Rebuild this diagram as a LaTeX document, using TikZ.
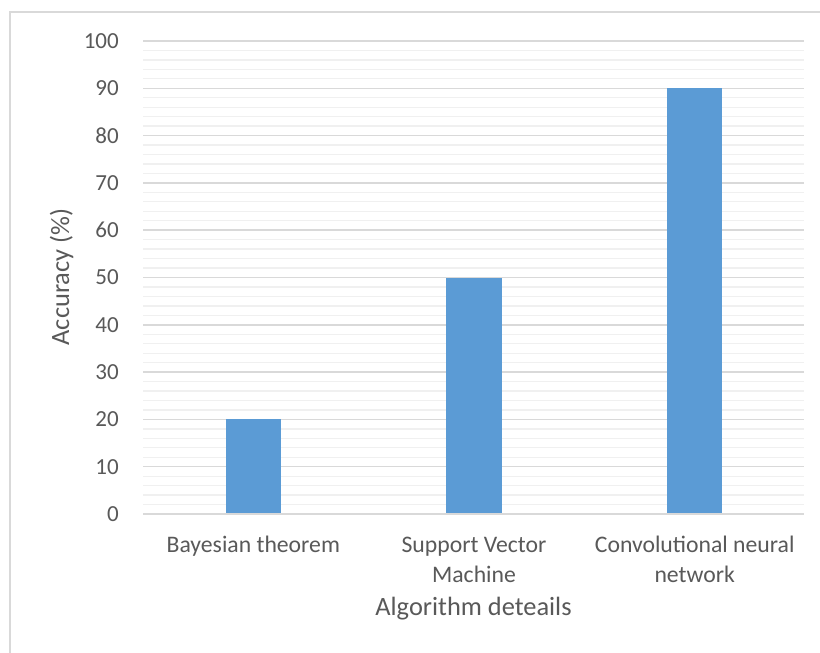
\documentclass[tikz,border=0pt]{standalone}
\usepackage{fontspec}
\setmainfont{Carlito}
\definecolor{txt}{HTML}{595959}
\definecolor{barc}{HTML}{5B9BD5}
\definecolor{majg}{HTML}{D9D9D9}
\definecolor{ming}{HTML}{F0F0F0}
\begin{document}
\begin{tikzpicture}[x=1pt,y=-1pt,
  frame/.style={draw=majg,line width=1.5pt},
  majorgrid/.style={draw=majg,line width=1.5pt},
  minorgrid/.style={draw=ming,line width=1.3pt},
  bar/.style={fill=barc,draw=none},
  ticklab/.style={text=txt,inner sep=0pt,font=\fontsize{23}{27}\selectfont},
  catlab/.style={text=txt,inner sep=0pt,anchor=base,font=\fontsize{23.7}{28}\selectfont},
  axtitle/.style={text=txt,inner sep=0pt,anchor=base,font=\fontsize{26.4}{30}\selectfont}]
\useasboundingbox (0,0) rectangle (820,653);
\fill[white] (0,0) rectangle (820,653);
\draw[frame] (820,12) -- (10,12) -- (10,653);
% minor grid
\foreach \v in {0,2,...,100} {
  \draw[minorgrid] (143,{514-4.73*\v}) -- (804,{514-4.73*\v});
}
% major grid and tick labels
\foreach \v in {0,10,...,100} {
  \draw[majorgrid] (143,{514-4.73*\v}) -- (804,{514-4.73*\v});
  \node[ticklab,anchor=east] (t\v) at (119,{514-4.73*\v}) {\v};
}
% bars
\fill[bar] (225.5,514) rectangle (281,{514-4.73*20});
\fill[bar] (446,514) rectangle (501.5,{514-4.73*50});
\fill[bar] (667,514) rectangle (722,{514-4.73*90});
\draw[majorgrid] (143,514) -- (804,514);
% category labels
\node[catlab] (c1) at (253.3,552) {Bayesian theorem};
\node[catlab] (c2a) at (474,552) {Support Vector};
\node[catlab] (c2b) at (474,582) {Machine};
\node[catlab] (c3a) at (694.7,552) {Convolutional neural};
\node[catlab] (c3b) at (694.7,582) {network};
% axis titles
\node[axtitle] (xt) at (473.5,615) {Algorithm deteails};
\node[axtitle,rotate=90] (yt) at (69,277) {Accuracy (\%)};
\end{tikzpicture}
\end{document}
